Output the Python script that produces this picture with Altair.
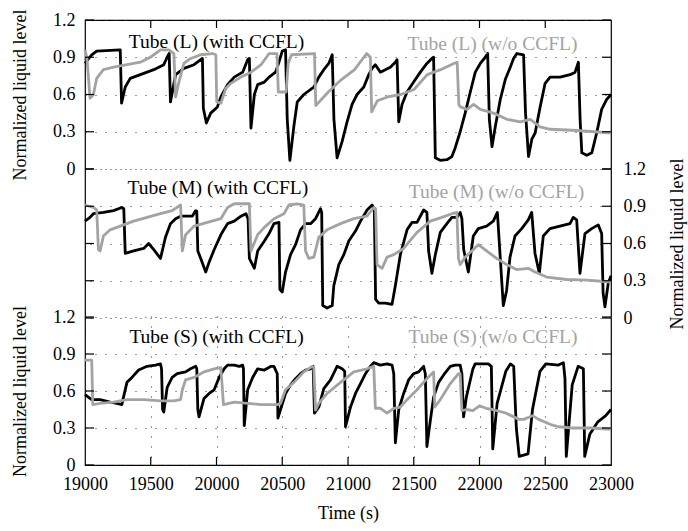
import altair as alt
import pandas as pd

# ---------------- data ----------------
L_with_t = [19000, 19051, 19089, 19268, 19278, 19306, 19344, 19421, 19523, 19599, 19625, 19640, 19650, 19689,
            19752, 19829, 19880, 19893, 19900, 19923, 19956, 20007, 20033, 20084, 20135, 20199, 20237, 20250,
            20262, 20288, 20313, 20364, 20400, 20449, 20475, 20500, 20525, 20538, 20558, 20589, 20614, 20664,
            20740, 20778, 20816, 20854, 20880, 20893, 20917, 20955, 20993, 21031, 21069, 21120, 21158, 21183,
            21208, 21246, 21284, 21322, 21360, 21373, 21386, 21411, 21449, 21499, 21550, 21600, 21638, 21651,
            21664, 21701, 21752, 21790, 21815, 21853, 21891, 21930, 21968, 22006, 22044, 22062, 22075, 22095,
            22120, 22158, 22196, 22234, 22259, 22284, 22335, 22350, 22373, 22398, 22423, 22461, 22499, 22537,
            22613, 22689, 22727, 22752, 22765, 22778, 22816, 22854, 22891, 22929, 22967, 23000]
L_with_v = [0.85, 0.92, 0.95, 0.96, 0.53, 0.66, 0.73, 0.76, 0.80, 0.84, 0.90, 0.93, 0.54, 0.76,
            0.81, 0.84, 0.88, 0.89, 0.49, 0.37, 0.45, 0.50, 0.58, 0.68, 0.74, 0.78, 0.88, 0.89,
            0.33, 0.60, 0.68, 0.70, 0.74, 0.78, 0.86, 0.95, 0.96, 0.40, 0.07, 0.35, 0.54, 0.60,
            0.66, 0.74, 0.80, 0.85, 0.92, 0.40, 0.09, 0.22, 0.38, 0.52, 0.60, 0.66, 0.76, 0.81,
            0.84, 0.78, 0.80, 0.82, 0.86, 0.88, 0.38, 0.52, 0.62, 0.70, 0.78, 0.85, 0.89, 0.90,
            0.09, 0.07, 0.075, 0.10, 0.17, 0.30, 0.45, 0.62, 0.78, 0.85, 0.90, 0.93, 0.40, 0.18,
            0.34, 0.56, 0.72, 0.82, 0.89, 0.93, 0.92, 0.45, 0.10, 0.24, 0.29, 0.50, 0.69, 0.74,
            0.74, 0.76, 0.78, 0.86, 0.40, 0.13, 0.11, 0.13, 0.29, 0.48, 0.56, 0.60]

L_wo_t = [19000, 19015, 19038, 19064, 19089, 19140, 19217, 19319, 19421, 19497, 19574, 19638, 19676, 19689,
          19714, 19752, 19803, 19880, 19969, 19995, 20002, 20033, 20071, 20109, 20186, 20262, 20339, 20400,
          20460, 20470, 20530, 20545, 20570, 20745, 20755, 20850, 20950, 21050, 21142, 21170, 21180, 21224,
          21300, 21401, 21502, 21603, 21704, 21805, 21830, 21843, 21854, 21905, 21955, 22006, 22107, 22208,
          22310, 22385, 22461, 22537, 22740, 23000]
L_wo_v = [0.96, 0.89, 0.57, 0.60, 0.73, 0.80, 0.82, 0.84, 0.86, 0.90, 0.96, 0.96, 0.93, 0.58,
          0.70, 0.85, 0.89, 0.92, 0.93, 0.92, 0.54, 0.53, 0.65, 0.69, 0.74, 0.78, 0.84, 0.93,
          0.93, 0.62, 0.62, 0.85, 0.92, 0.93, 0.51, 0.62, 0.72, 0.80, 0.93, 0.90, 0.46, 0.55,
          0.58, 0.60, 0.64, 0.76, 0.80, 0.85, 0.86, 0.52, 0.50, 0.48, 0.52, 0.48, 0.45, 0.40,
          0.38, 0.40, 0.34, 0.32, 0.31, 0.29]

M_with_t = [19000, 19038, 19064, 19140, 19217, 19280, 19295, 19306, 19370, 19446, 19484, 19523, 19574, 19612,
            19650, 19689, 19727, 19816, 19842, 19850, 19858, 19880, 19918, 19944, 19982, 20033, 20084, 20135,
            20186, 20224, 20240, 20250, 20288, 20313, 20364, 20400, 20437, 20475, 20482, 20500, 20525, 20563,
            20601, 20639, 20677, 20715, 20753, 20791, 20800, 20808, 20841, 20880, 20892, 20930, 20968, 21006,
            21057, 21095, 21145, 21183, 21200, 21210, 21234, 21284, 21335, 21360, 21398, 21449, 21487, 21525,
            21575, 21600, 21613, 21638, 21664, 21702, 21752, 21790, 21828, 21853, 21866, 21880, 21915, 21953,
            21991, 22054, 22105, 22136, 22151, 22181, 22206, 22232, 22270, 22321, 22371, 22397, 22422, 22455,
            22485, 22536, 22612, 22688, 22713, 22739, 22764, 22802, 22853, 22903, 22929, 22940, 22954, 22979,
            23000]
M_with_v = [0.78, 0.81, 0.84, 0.85, 0.865, 0.89, 0.88, 0.52, 0.54, 0.56, 0.60, 0.55, 0.48, 0.65,
            0.76, 0.80, 0.82, 0.82, 0.865, 0.86, 0.54, 0.48, 0.37, 0.45, 0.55, 0.67, 0.76, 0.78,
            0.82, 0.84, 0.80, 0.48, 0.40, 0.54, 0.62, 0.68, 0.76, 0.77, 0.23, 0.21, 0.37, 0.51,
            0.59, 0.71, 0.76, 0.76, 0.80, 0.88, 0.85, 0.10, 0.08, 0.10, 0.26, 0.43, 0.51, 0.62,
            0.70, 0.78, 0.87, 0.91, 0.88, 0.15, 0.12, 0.12, 0.11, 0.26, 0.51, 0.71, 0.77, 0.77,
            0.87, 0.85, 0.54, 0.36, 0.51, 0.69, 0.76, 0.81, 0.81, 0.85, 0.80, 0.55, 0.37, 0.66,
            0.72, 0.74, 0.78, 0.85, 0.60, 0.10, 0.22, 0.49, 0.66, 0.72, 0.79, 0.85, 0.52, 0.36,
            0.66, 0.72, 0.74, 0.76, 0.81, 0.79, 0.36, 0.68, 0.72, 0.75, 0.68, 0.20, 0.09, 0.28,
            0.34]

M_wo_t = [19000, 19064, 19089, 19102, 19115, 19140, 19191, 19268, 19370, 19472, 19574, 19663, 19727, 19740,
          19765, 19829, 19931, 20033, 20084, 20135, 20250, 20262, 20313, 20364, 20437, 20513, 20551, 20614,
          20664, 20677, 20702, 20740, 20778, 20841, 20943, 21044, 21145, 21196, 21210, 21221, 21259, 21297,
          21348, 21423, 21525, 21626, 21714, 21790, 21828, 21840, 21853, 21891, 21941, 21991, 22054, 22130,
          22206, 22282, 22371, 22422, 22510, 22663, 22815, 23000]
M_wo_v = [0.91, 0.89, 0.87, 0.55, 0.54, 0.66, 0.71, 0.74, 0.78, 0.81, 0.84, 0.865, 0.91, 0.54,
          0.67, 0.74, 0.77, 0.80, 0.89, 0.92, 0.92, 0.54, 0.67, 0.73, 0.80, 0.84, 0.91, 0.92,
          0.91, 0.54, 0.48, 0.49, 0.65, 0.71, 0.76, 0.80, 0.82, 0.89, 0.88, 0.43, 0.40, 0.49,
          0.51, 0.56, 0.69, 0.78, 0.81, 0.84, 0.85, 0.48, 0.43, 0.49, 0.54, 0.59, 0.54, 0.48,
          0.43, 0.39, 0.40, 0.37, 0.33, 0.31, 0.305, 0.29]

S_with_t = [19000, 19025, 19051, 19115, 19191, 19242, 19280, 19293, 19319, 19357, 19408, 19472, 19536, 19574,
            19582, 19590, 19599, 19625, 19663, 19701, 19765, 19803, 19842, 19850, 19858, 19867, 19905, 19944,
            19982, 20020, 20058, 20084, 20135, 20173, 20199, 20205, 20211, 20237, 20275, 20313, 20364, 20415,
            20437, 20462, 20467, 20487, 20525, 20563, 20601, 20639, 20677, 20715, 20735, 20745, 20778, 20816,
            20867, 20917, 20955, 20975, 20981, 21019, 21057, 21095, 21133, 21170, 21196, 21246, 21297, 21335,
            21348, 21360, 21386, 21423, 21461, 21499, 21537, 21575, 21588, 21600, 21626, 21651, 21689, 21727,
            21778, 21815, 21853, 21866, 21879, 21900, 21950, 21967, 22067, 22090, 22101, 22134, 22200, 22235,
            22260, 22280, 22302, 22369, 22403, 22460, 22504, 22600, 22638, 22650, 22660, 22705, 22750, 22790,
            22800, 22839, 22900, 22960, 23000]
S_with_v = [0.57, 0.55, 0.53, 0.53, 0.51, 0.50, 0.49, 0.55, 0.67, 0.71, 0.77, 0.80, 0.81, 0.82,
            0.78, 0.45, 0.43, 0.63, 0.71, 0.74, 0.755, 0.78, 0.80, 0.78, 0.45, 0.39, 0.54, 0.58,
            0.61, 0.71, 0.78, 0.81, 0.81, 0.80, 0.81, 0.78, 0.32, 0.61, 0.71, 0.78, 0.77, 0.80,
            0.80, 0.74, 0.38, 0.45, 0.58, 0.65, 0.70, 0.74, 0.77, 0.78, 0.80, 0.42, 0.47, 0.62,
            0.69, 0.80, 0.78, 0.76, 0.31, 0.47, 0.58, 0.66, 0.74, 0.80, 0.83, 0.81, 0.82, 0.81,
            0.74, 0.18, 0.45, 0.58, 0.69, 0.74, 0.755, 0.80, 0.74, 0.15, 0.36, 0.55, 0.67, 0.73,
            0.80, 0.81, 0.81, 0.74, 0.39, 0.55, 0.78, 0.82, 0.82, 0.80, 0.13, 0.50, 0.76, 0.82,
            0.80, 0.30, 0.07, 0.09, 0.45, 0.76, 0.82, 0.81, 0.83, 0.70, 0.07, 0.65, 0.80, 0.78,
            0.07, 0.25, 0.35, 0.40, 0.45]

S_wo_t = [19000, 19051, 19059, 19115, 19217, 19319, 19446, 19574, 19676, 19727, 19740, 19765, 19829, 19905,
          19982, 20033, 20053, 20135, 20237, 20339, 20462, 20487, 20525, 20589, 20664, 20728, 20740, 20753,
          20778, 20841, 20943, 21044, 21145, 21196, 21208, 21246, 21297, 21348, 21398, 21449, 21525, 21600,
          21651, 21660, 21702, 21778, 21840, 21853, 21866, 21900, 21950, 22000, 22050, 22100, 22202, 22300,
          22336, 22403, 22450, 22537, 22600, 22705, 22850, 23000]
S_wo_v = [0.85, 0.85, 0.49, 0.50, 0.51, 0.53, 0.53, 0.52, 0.52, 0.53, 0.61, 0.69, 0.71, 0.755,
          0.78, 0.79, 0.49, 0.51, 0.50, 0.49, 0.49, 0.50, 0.61, 0.67, 0.755, 0.80, 0.79, 0.445,
          0.50, 0.58, 0.67, 0.755, 0.78, 0.80, 0.46, 0.46, 0.42, 0.46, 0.47, 0.53, 0.61, 0.70,
          0.755, 0.47, 0.53, 0.66, 0.74, 0.74, 0.44, 0.45, 0.44, 0.48, 0.46, 0.45, 0.42, 0.37,
          0.37, 0.40, 0.37, 0.33, 0.31, 0.30, 0.30, 0.29]

# annotation labels: (time, level) positions in data units
ann_with = ["Tube (L) (with CCFL)", "Tube (M) (with CCFL)", "Tube (S) (with CCFL)"]
ann_wo = ["Tube (L) (w/o CCFL)", "Tube (M) (w/o CCFL)", "Tube (S) (w/o CCFL)"]
ann_with_t = [20000, 20010, 20000]
ann_with_v = [0.975, 1.0, 0.99]
ann_wo_t = [22099, 22129, 22103]
ann_wo_v = [0.955, 0.966, 0.99]

y_ticks = [0, 0.3, 0.6, 0.9, 1.2]
x_ticks = [19000, 19500, 20000, 20500, 21000, 21500, 22000, 22500, 23000]
x_inner = [19500, 20000, 20500, 21000, 21500, 22000, 22500]

# ---------------- layout / style ----------------
W, H = 526, 445
FONT = "Liberation Serif"
GRAY = "#a3a3a3"
GRID = dict(grid=True, gridDash=[1, 9], gridColor="#3a3a3a", gridWidth=1.1, gridOpacity=1)

X = alt.X("t:Q",
          scale=alt.Scale(domain=[19000, 23000], nice=False, zero=False),
          axis=alt.Axis(values=x_ticks, format="d", ticks=False, tickSize=0, domain=False,
                        labelPadding=10, labelFlush=False, labelFont=FONT, labelFontSize=18,
                        labelColor="black", title="Time (s)", titleFont=FONT, titleFontSize=18,
                        titleFontWeight="normal", titleColor="black", titleY=48,
                        titleBaseline="middle", **GRID))


def y_enc(rng, orient, title_x, title_y, pad):
    return alt.Y("v:Q",
                 scale=alt.Scale(domain=[0, 1.2], range=rng, nice=False, zero=False),
                 axis=alt.Axis(orient=orient, values=y_ticks, format=".1~f", ticks=False, tickSize=0,
                               domain=False, labelPadding=pad, labelFont=FONT, labelFontSize=18,
                               labelColor="black", labelOverlap=False, labelFlush=False,
                               title="Normalized liquid level", titleFont=FONT, titleFontSize=18,
                               titleFontWeight="normal", titleColor="black", titleAngle=270,
                               titleX=title_x, titleY=title_y, titleAlign="center",
                               titleBaseline="middle", **GRID))


def panel(with_t, with_v, wo_t, wo_v, idx, rng, orient, title_x, title_y, pad):
    Y = y_enc(rng, orient, title_x, title_y, pad)
    d_with = pd.DataFrame({"t": with_t, "v": with_v})
    d_wo = pd.DataFrame({"t": wo_t, "v": wo_v})
    d_tick = pd.DataFrame({"v": y_ticks})
    d_a1 = pd.DataFrame({"t": [ann_with_t[idx]], "v": [ann_with_v[idx]], "lab": [ann_with[idx]]})
    d_a2 = pd.DataFrame({"t": [ann_wo_t[idx]], "v": [ann_wo_v[idx]], "lab": [ann_wo[idx]]})
    black = alt.Chart(d_with).mark_line(color="black", strokeWidth=2.8, strokeJoin="round").encode(
        x=X, y=Y, order="t:Q")
    gray = alt.Chart(d_wo).mark_line(color=GRAY, strokeWidth=2.8, strokeJoin="round").encode(
        x=X, y=Y, order="t:Q")
    tick_l = alt.Chart(d_tick).mark_rule(color="black", strokeWidth=1.2).encode(
        y=Y, x=alt.value(0), x2=alt.value(9))
    tick_r = alt.Chart(d_tick).mark_rule(color="black", strokeWidth=1.2).encode(
        y=Y, x=alt.value(W - 9), x2=alt.value(W))
    t1 = alt.Chart(d_a1).mark_text(font=FONT, fontSize=19.5, color="black", align="center",
                                   baseline="alphabetic").encode(x=X, y=Y, text="lab:N")
    t2 = alt.Chart(d_a2).mark_text(font=FONT, fontSize=19.5, color=GRAY, align="center",
                                   baseline="alphabetic").encode(x=X, y=Y, text="lab:N")
    return alt.layer(black, gray, t1, t2, tick_l, tick_r)


pL = panel(L_with_t, L_with_v, L_wo_t, L_wo_v, 0, [149, 0], "left", -65, 74.5, 10)
pM = panel(M_with_t, M_with_v, M_wo_t, M_wo_v, 1, [298, 149], "right", 66, 223.5, 12)
pS = panel(S_with_t, S_with_v, S_wo_t, S_wo_v, 2, [445, 297], "left", -65, 371, 10)

d_xt = pd.DataFrame({"t": x_inner})
xt_top = alt.Chart(d_xt).mark_rule(color="black", strokeWidth=1.2).encode(
    x=X, y=alt.value(0), y2=alt.value(8))
xt_bot = alt.Chart(d_xt).mark_rule(color="black", strokeWidth=1.2).encode(
    x=X, y=alt.value(H - 8), y2=alt.value(H))

chart = alt.layer(pL, pM, pS, xt_top, xt_bot).resolve_scale(y="independent").properties(
    width=W, height=H,
    autosize=alt.AutoSizeParams(type="none"),
    padding={"left": 85, "top": 20, "right": 77, "bottom": 66},
    background="white",
).configure_view(stroke="black", strokeWidth=1.2)

chart.save("out.html", embed_options={"renderer": "svg", "actions": False})
